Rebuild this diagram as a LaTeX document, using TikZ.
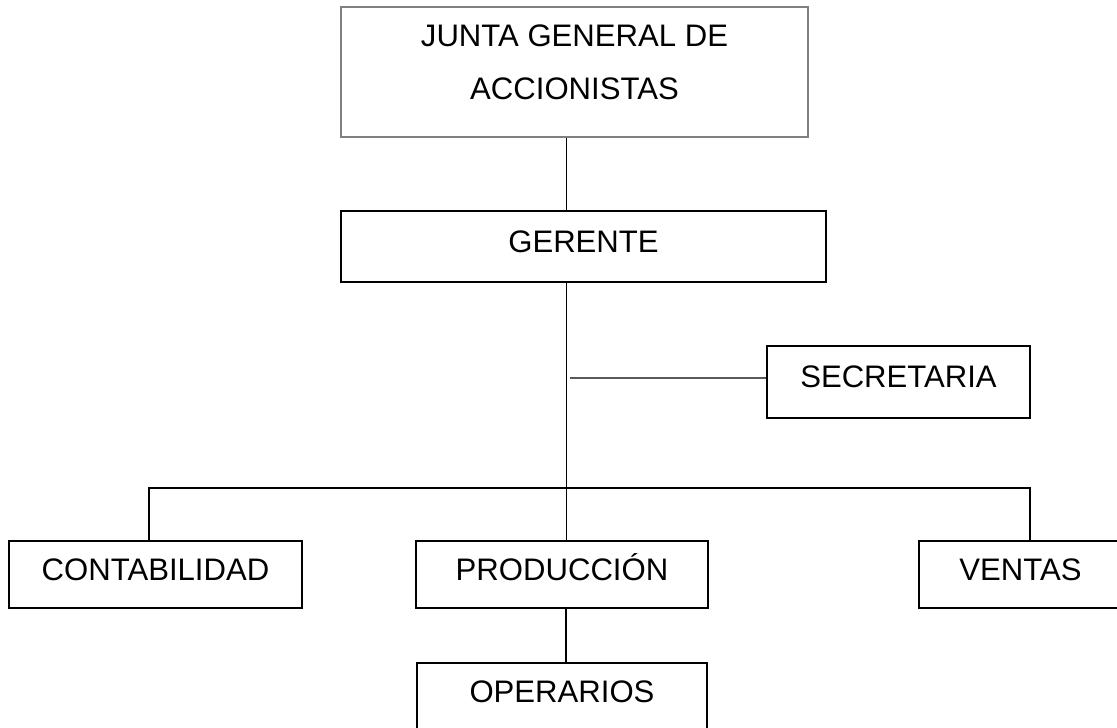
\documentclass[tikz,border=0pt]{standalone}
\usepackage{fontspec}
\setmainfont{Liberation Sans}
\usetikzlibrary{positioning,calc}

\begin{document}
\begin{tikzpicture}[
    box/.style={rectangle, draw, line width=0.8pt, align=center, inner sep=0pt, font=\fontsize{17.7}{30.2}\selectfont},
    unit/.style={box, text height=12.7pt, text depth=6pt},
    topbox/.style={box, draw=black!50, line width=1.1pt},
    link/.style={line width=0.8pt}
]
\useasboundingbox (0,0) rectangle (22.34,14.54);

% Cabeza
\node[topbox, minimum width=9.34cm, minimum height=2.6cm] (junta) at (11.49,13.1) {JUNTA GENERAL DE\\ACCIONISTAS\rule[-10.8pt]{0pt}{0pt}};
\node[unit, minimum width=9.7cm, minimum height=1.42cm] (gerente) at (11.67,9.61) {GERENTE};
\node[unit, minimum width=5.26cm, minimum height=1.44cm] (secretaria) at (17.97,6.9) {SECRETARIA};

% Departamentos
\node[unit, minimum width=5.86cm, minimum height=1.34cm] (contabilidad) at (3.11,3.05) {CONTABILIDAD};
\node[unit, minimum width=5.84cm, minimum height=1.34cm] (produccion) at (11.24,3.05) {PRODUCCIÓN};
\node[unit, minimum width=4.06cm, minimum height=1.34cm] (ventas) at (20.41,3.05) {VENTAS};
\node[unit, minimum width=5.8cm, minimum height=1.34cm] (operarios) at (11.24,0.61) {OPERARIOS};

\coordinate (bar) at (11.33,4.78);

% Lineas
\draw[link] (11.33,0 |- gerente.north) -- (11.33,0 |- junta.south);
\draw[link] (11.33,0 |- gerente.south) -- (11.33,0 |- produccion.north);
\draw[link] ([yshift=0.08cm]secretaria.west) -- (11.40,6.98);
\draw[link] (2.98,0 |- contabilidad.north) |- (bar) -| (20.6,0 |- ventas.north);
\draw[link] (11.32,0 |- produccion.south) -- (11.32,0 |- operarios.north);

\end{tikzpicture}
\end{document}
